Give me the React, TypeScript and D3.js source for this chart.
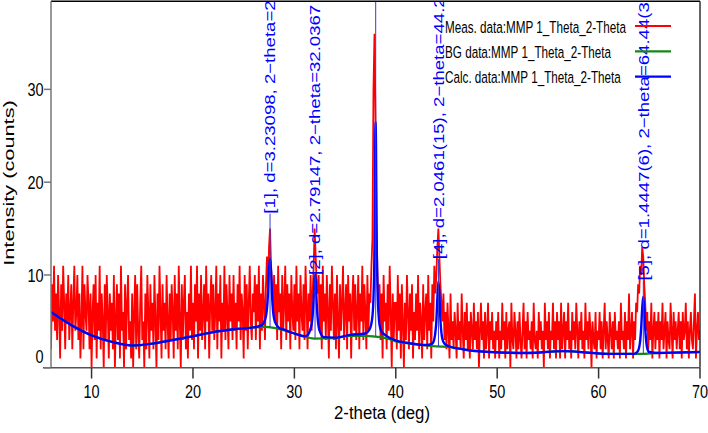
import React from "react";
import * as d3 from "d3";

const W = 708;
const H = 433;

const xDomain = [6, 70];
const yDomain = [0, 39.5];
const xTicks = [10, 20, 30, 40, 50, 60, 70];
const yTicks = [0, 10, 20, 30];

// Measured counts, 2-theta from 6.0 in steps of 0.1 deg
const measStart = 6.0;
const measStep = 0.1;
const measCounts = [
  2, 9, 5, 11, 4, 8, 3, 10, 6, 1, 9, 4, 11, 7, 2, 8, 5, 10, 3, 6,
  9, 2, 7, 11, 4, 6, 10, 3, 8, 1, 5, 11, 2, 9, 6, 4, 10, 7, 2, 8,
  0, 6, 9, 3, 10, 1, 7, 4, 11, 2, 8, 5, 0, 9, 3, 10, 6, 1, 8, 4,
  7, 2, 10, 0, 5, 9, 3, 8, 1, 11, 4, 6, 0, 9, 2, 7, 10, 3, 5, 1,
  8, 0, 6, 10, 2, 9, 4, 1, 7, 11, 3, 5, 0, 8, 2, 10, 6, 1, 9, 4,
  7, 2, 10, 5, 0, 8, 3, 11, 6, 1, 9, 4, 7, 2, 10, 5, 1, 8, 3, 9,
  6, 1, 10, 4, 8, 2, 11, 5, 0, 9, 3, 7, 10, 2, 6, 1, 8, 4, 11, 3,
  7, 2, 9, 5, 11, 1, 8, 4, 10, 3, 6, 9, 2, 11, 5, 8, 1, 7, 10, 4,
  9, 3, 6, 11, 2, 8, 5, 10, 1, 7, 4, 11, 3, 9, 6, 2, 10, 5, 8, 3,
  10, 4, 7, 2, 9, 5, 11, 3, 8, 6, 1, 10, 4, 9, 2, 7, 11, 5, 3, 8,
  6, 10, 3, 9, 5, 11, 2, 8, 4, 10, 7, 3, 9, 12, 8, 13, 15, 11, 9, 6,
  10, 5, 9, 3, 11, 6, 8, 2, 10, 4, 7, 11, 3, 9, 5, 8, 2, 10, 6, 4,
  9, 3, 11, 5, 8, 2, 10, 6, 4, 9, 3, 11, 7, 2, 8, 5, 10, 4, 8, 11,
  15, 12, 9, 8, 10, 4, 9, 2, 11, 5, 8, 3, 10, 6, 1, 9, 4, 11, 7, 3,
  8, 2, 10, 5, 1, 9, 4, 7, 11, 3, 6, 9, 2, 10, 5, 8, 1, 7, 10, 4,
  9, 3, 6, 10, 2, 8, 5, 11, 3, 9, 6, 2, 10, 4, 8, 7, 11, 14, 30, 36,
  27, 15, 10, 6, 9, 3, 8, 1, 10, 5, 7, 2, 9, 4, 11, 6, 0, 8, 3, 7,
  7, 2, 10, 4, 8, 1, 9, 5, 0, 7, 3, 10, 6, 2, 8, 4, 9, 1, 6, 3,
  8, 4, 10, 2, 7, 5, 1, 9, 3, 6, 8, 2, 10, 4, 7, 1, 9, 5, 11, 8,
  10, 13, 15, 12, 9, 7, 5, 8, 3, 6, 2, 7, 4, 1, 8, 3, 5, 2, 6, 4,
  1, 7, 3, 5, 2, 8, 4, 1, 6, 3, 7, 2, 5, 1, 6, 4, 2, 7, 3, 5,
  2, 6, 0, 4, 7, 3, 5, 1, 6, 2, 4, 7, 1, 5, 3, 6, 2, 4, 1, 5,
  3, 6, 1, 4, 2, 7, 3, 5, 1, 6, 2, 4, 5, 0, 7, 3, 2, 6, 4, 1,
  5, 2, 6, 3, 1, 4, 7, 2, 5, 1, 6, 3, 4, 2, 5, 1, 7, 3, 2, 4,
  1, 6, 3, 5, 2, 4, 0, 7, 3, 5, 2, 6, 1, 4, 3, 7, 2, 5, 1, 6,
  3, 5, 1, 7, 2, 4, 6, 1, 5, 3, 7, 2, 4, 1, 6, 3, 5, 2, 7, 4,
  1, 5, 3, 6, 2, 4, 1, 7, 3, 5, 2, 6, 4, 0, 5, 3, 2, 6, 1, 4,
  3, 6, 2, 5, 1, 4, 7, 2, 5, 3, 1, 6, 4, 2, 5, 1, 6, 3, 4, 2,
  5, 1, 7, 3, 4, 2, 6, 1, 5, 3, 8, 2, 4, 6, 1, 5, 3, 7, 6, 9,
  8, 11, 10, 13, 12, 9, 7, 4, 6, 2, 5, 3, 7, 1, 4, 6, 2, 5, 3, 6,
  1, 5, 3, 7, 2, 4, 6, 1, 5, 3, 2, 7, 4, 1, 6, 3, 5, 2, 4, 6,
  2, 5, 1, 6, 3, 4, 7, 2, 5, 1, 4, 6, 3, 2, 5, 8, 1, 4, 6, 3,
  4,
];

// Background curve
const bgX = [6, 8, 10, 12, 14, 16, 18, 20, 22, 24, 26, 27, 28, 30, 32, 34, 35.5, 37, 38, 39, 40, 41.4, 43, 44, 45.2, 46.6, 49.3, 53, 56.5, 61, 64, 66, 68, 70];
const bgY = [6.0, 4.6, 3.5, 2.8, 2.4, 2.6, 3.0, 3.4, 3.85, 4.15, 4.35, 4.4, 4.3, 3.7, 3.15, 3.2, 3.45, 3.45, 3.35, 3.2, 2.85, 2.6, 2.4, 2.3, 2.25, 2.0, 1.7, 1.6, 1.8, 1.5, 1.5, 1.6, 1.65, 1.7];

// Calculated profile
const calcX = [
  6, 8, 10, 12, 14, 16, 18, 20, 22, 24, 26,
  26.8, 27.0, 27.2, 27.3, 27.4, 27.5, 27.6, 27.7, 27.8, 27.9, 28.0, 28.2, 28.5, 29, 30, 31,
  31.3, 31.5, 31.7, 31.8, 31.9, 32.0, 32.05, 32.1, 32.2, 32.3, 32.4, 32.6, 32.9, 34, 35.5,
  37.0, 37.4, 37.6, 37.7, 37.8, 37.9, 37.95, 38.0, 38.05, 38.1, 38.2, 38.3, 38.4, 38.6, 39.0, 40, 41.4, 43,
  43.6, 43.8, 43.9, 44.0, 44.1, 44.2, 44.3, 44.4, 44.5, 44.6, 44.8, 45.2, 46.6, 49.3, 53, 56.5, 61, 63.5,
  63.8, 64.0, 64.1, 64.2, 64.3, 64.4, 64.5, 64.6, 64.7, 64.8, 65.0, 66, 68, 70,
];
const calcY = [
  6.0, 4.6, 3.5, 2.8, 2.4, 2.6, 3.0, 3.4, 3.85, 4.15, 4.35,
  4.6, 4.9, 5.6, 6.4, 8.0, 10.6, 11.8, 10.4, 7.8, 6.1, 5.3, 4.7, 4.3, 4.1, 3.7, 3.4,
  3.5, 3.9, 4.7, 5.6, 7.3, 9.6, 10.0, 9.5, 7.0, 5.3, 4.4, 3.7, 3.3, 3.25, 3.55,
  3.7, 4.1, 4.8, 5.6, 7.5, 13.0, 20.0, 26.5, 24.0, 15.5, 8.5, 5.8, 4.6, 3.9, 3.5, 2.95, 2.65, 2.45,
  2.6, 3.1, 3.8, 5.0, 7.5, 9.3, 8.0, 5.2, 3.8, 3.1, 2.6, 2.35, 2.0, 1.7, 1.6, 1.8, 1.5, 1.5,
  1.7, 2.2, 2.9, 4.3, 6.4, 7.65, 6.5, 4.2, 2.8, 2.1, 1.7, 1.6, 1.65, 1.7,
];

// Peak markers and labels
const peakPos = [27.6, 32.04, 38.02, 44.21, 64.41];
const peakLabelFrom = [16.6, 10.0, 40, 11.7, 9.4];
const peakLabels = [
  "[1], d=3.23098, 2\u2212theta=27.5834",
  "[2], d=2.79147, 2\u2212theta=32.0367",
  "",
  "[4], d=2.0461(15), 2\u2212theta=44.235(4)",
  "[5], d=1.4447(6), 2\u2212theta=64.44(3)",
];

const legendLabels = [
  "Meas. data:MMP 1_Theta_2-Theta",
  "BG data:MMP 1_Theta_2-Theta",
  "Calc. data:MMP 1_Theta_2-Theta",
];
const legendColors = ["#ff0000", "#138a13", "#0000ff"];

const FONT = "'Liberation Sans', Arial, Helvetica, sans-serif";

export default function App() {
  const left = 51;
  const right = 700;
  const top = 1.2;
  const bottom = 367.8;
  const x = d3.scaleLinear().domain(xDomain).range([left, right]);
  const y = d3.scaleLinear().domain(yDomain).range([bottom, top]);

  const measPts: [number, number][] = measCounts.map((c, i) => [measStart + i * measStep, c]);
  const bgPts: [number, number][] = bgX.map((v, i) => [v, bgY[i]]);
  const calcPts: [number, number][] = calcX.map((v, i) => [v, calcY[i]]);

  const lin = d3.line<[number, number]>().x((d) => x(d[0])).y((d) => y(d[1]));
  const smooth = d3
    .line<[number, number]>()
    .x((d) => x(d[0]))
    .y((d) => y(d[1]))
    .curve(d3.curveMonotoneX);

  const bgAt = d3.scaleLinear().domain(bgX).range(bgY);

  return (
    <div style={{ position: "absolute", left: 0, top: 0 }}>
      <svg width={W} height={H} style={{ display: "block", background: "#fff" }}>
        <defs>
          <clipPath id="plot">
            <rect x={left} y={top} width={right - left} height={bottom - top} />
          </clipPath>
        </defs>

        <g clipPath="url(#plot)">
          <path d={lin(measPts) || ""} fill="none" stroke="#ff0000" strokeWidth={1.8} strokeLinejoin="miter" />
          <path d={smooth(bgPts) || ""} fill="none" stroke="#138a13" strokeWidth={2.2} />
          <path d={smooth(calcPts) || ""} fill="none" stroke="#0000ff" strokeWidth={2.4} />

          {peakPos.map((p, i) => {
            const px = x(p);
            const yEnd = peakLabels[i] ? y(peakLabelFrom[i]) : top;
            return (
              <line
                key={"pl" + i}
                x1={px}
                x2={px}
                y1={y(bgAt(p))}
                y2={yEnd}
                stroke="#3a3ad0"
                strokeWidth={1}
              />
            );
          })}

          {peakPos.map((p, i) =>
            peakLabels[i] ? (
              <text
                key={"lab" + i}
                transform={`translate(${x(p)},${y(peakLabelFrom[i])}) rotate(-90) scale(1.24,1)`}
                dy="0.36em"
                fontFamily={FONT}
                fontSize={15}
                fill="#0000ff"
              >
                {peakLabels[i]}
              </text>
            ) : null
          )}
        </g>

        {/* frame */}
        <line x1={left} x2={right} y1={top} y2={top} stroke="#000" strokeWidth={1.5} />
        <line x1={right} x2={right} y1={top} y2={bottom} stroke="#333" strokeWidth={1.5} />
        <line x1={left} x2={left} y1={top} y2={bottom} stroke="#777" strokeWidth={1.5} />
        <line x1={43} x2={right} y1={bottom} y2={bottom} stroke="#555" strokeWidth={1.5} />

        {/* y ticks */}
        {yTicks.map((t) => (
          <g key={"yt" + t}>
            <line x1={44} x2={left} y1={y(t)} y2={y(t)} stroke="#777" strokeWidth={1.5} />
            <text
              transform={`translate(43.5,${t === 0 ? y(t) - 4.8 : y(t) + 6.7}) scale(1,1.3)`}
              textAnchor="end"
              fontFamily={FONT}
              fontSize={14.5}
              fill="#000"
            >
              {t}
            </text>
          </g>
        ))}

        {/* x ticks */}
        {xTicks.map((t) => (
          <g key={"xt" + t}>
            <line x1={x(t)} x2={x(t)} y1={bottom} y2={378.5} stroke="#333" strokeWidth={1.5} />
            <text
              transform={`translate(${x(t)},398.3) scale(1,1.3)`}
              textAnchor="middle"
              fontFamily={FONT}
              fontSize={14.5}
              fill="#000"
            >
              {t}
            </text>
          </g>
        ))}

        {/* axis titles */}
        <text
          transform={`translate(382,419) scale(1.05,1.2)`}
          textAnchor="middle"
          fontFamily={FONT}
          fontSize={16}
          fill="#000"
        >
          2-theta (deg)
        </text>
        <text
          transform={`translate(13.5,183) rotate(-90) scale(1.45,1)`}
          textAnchor="middle"
          fontFamily={FONT}
          fontSize={15}
          fill="#000"
        >
          Intensity (counts)
        </text>

        {/* legend */}
        {legendLabels.map((lab, i) => (
          <g key={"lg" + i}>
            <text
              transform={`translate(445,${33 + i * 25}) scale(0.9,1.3)`}
              fontFamily={FONT}
              fontSize={13}
              fill="#000"
            >
              {lab}
            </text>
            <line
              x1={635}
              x2={671}
              y1={26 + i * 25.3}
              y2={26 + i * 25.3}
              stroke={legendColors[i]}
              strokeWidth={2.2}
            />
          </g>
        ))}
      </svg>
    </div>
  );
}
